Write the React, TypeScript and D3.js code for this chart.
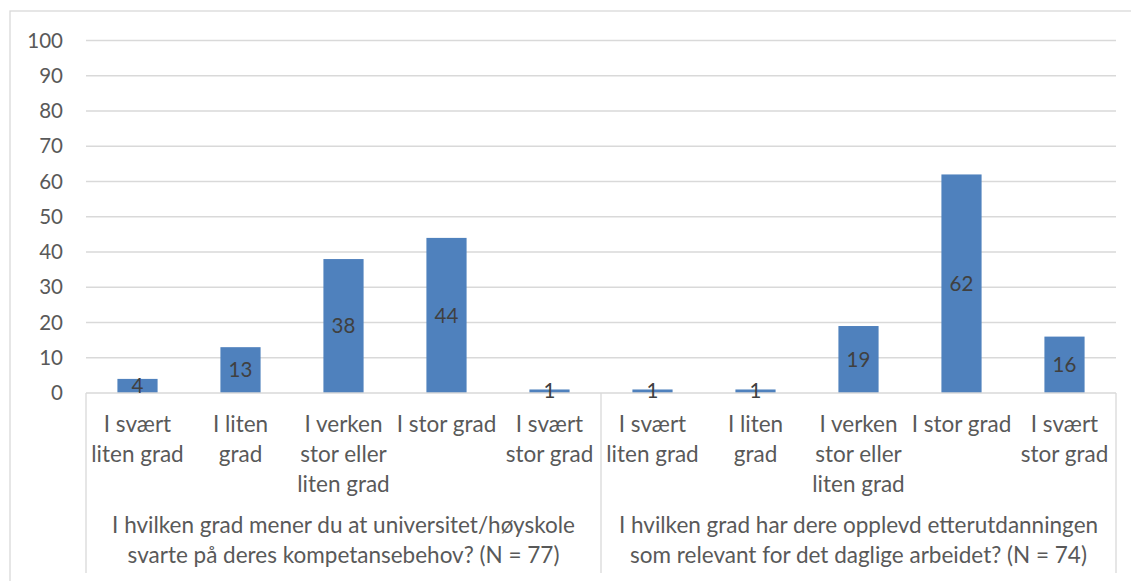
import React, { useEffect } from "react";
import * as d3 from "d3";

const groups = [
  ["I hvilken grad mener du at universitet/høyskole", "svarte på deres kompetansebehov? (N = 77)"],
  ["I hvilken grad har dere opplevd etterutdanningen", "som relevant for det daglige arbeidet? (N = 74)"],
];
const categories = [
  ["I svært", "liten grad"],
  ["I liten", "grad"],
  ["I verken", "stor eller", "liten grad"],
  ["I stor grad"],
  ["I svært", "stor grad"],
];
const values1 = [4, 13, 38, 44, 1];
const values2 = [1, 1, 19, 62, 16];
const yTicks = [0, 10, 20, 30, 40, 50, 60, 70, 80, 90, 100];

const W = 1131;
const H = 581;
const left = 86;
const right = 1116;
const top = 40.5;
const bottom = 393;
const FONT = "Lato, 'Open Sans', sans-serif";
const TEXT = "#595959";
const GRID = "#d9d9d9";
const BAR = "#4f81bd";
const FS_TEXT = 22.5;
const FS_NUM = 20.5;

export default function App() {
  useEffect(() => {
    document.body.style.margin = "0";
  }, []);

  const items = [
    ...values1.map((v, i) => ({ key: `a${i}`, g: 0, i, v })),
    ...values2.map((v, i) => ({ key: `b${i}`, g: 1, i, v })),
  ];
  const x = d3
    .scaleBand<string>()
    .domain(items.map((d) => d.key))
    .range([left, right])
    .paddingInner(0.61)
    .paddingOuter(0.305);
  const band = d3.scaleBand<string>().domain(items.map((d) => d.key)).range([left, right]);
  const gx = d3.scaleBand<number>().domain([0, 1]).range([left, right]);
  const y = d3.scaleLinear().domain([0, 100]).range([bottom, top]);

  return (
    <svg width={W} height={H} style={{ display: "block", background: "#fff" }} fontFamily={FONT}>
      <rect x={10} y={11} width={W + 10} height={H} fill="#fff" stroke={GRID} strokeWidth={1.3} />
      {yTicks.map((t) => (
        <g key={t}>
          {t > 0 && (
            <line x1={left} x2={right} y1={y(t)} y2={y(t)} stroke={GRID} strokeWidth={1.3} />
          )}
          <text x={63} y={y(t)} dy="0.35em" textAnchor="end" fontSize={FS_NUM} fill={TEXT}>
            {t}
          </text>
        </g>
      ))}
      {items.map((d) => (
        <rect
          key={d.key}
          x={x(d.key)}
          width={x.bandwidth()}
          y={y(d.v)}
          height={y(0) - y(d.v)}
          fill={BAR}
        />
      ))}
      <line x1={left} x2={right} y1={bottom} y2={bottom} stroke={GRID} strokeWidth={1.3} />
      {[left, gx(1)!, right].map((xx, i) => (
        <line key={i} x1={xx} x2={xx} y1={bottom} y2={573} stroke={GRID} strokeWidth={1.3} />
      ))}
      {items.map((d) => (
        <text
          key={`l${d.key}`}
          x={x(d.key)! + x.bandwidth() / 2}
          y={(y(d.v) + y(0)) / 2}
          dy="0.35em"
          textAnchor="middle"
          fontSize={FS_NUM}
          fill="#404040"
        >
          {d.v}
        </text>
      ))}
      {items.map((d) =>
        categories[d.i].map((line, k) => (
          <text
            key={`c${d.key}${k}`}
            x={band(d.key)! + band.bandwidth() / 2}
            y={424 + k * 30}
            dy="0.35em"
            textAnchor="middle"
            fontSize={FS_TEXT}
            fill={TEXT}
          >
            {line}
          </text>
        ))
      )}
      {groups.map((lines, g) =>
        lines.map((line, k) => (
          <text
            key={`g${g}${k}`}
            x={gx(g)! + gx.bandwidth() / 2}
            y={525 + k * 30}
            dy="0.35em"
            textAnchor="middle"
            fontSize={FS_TEXT}
            fill={TEXT}
          >
            {line}
          </text>
        ))
      )}
    </svg>
  );
}
